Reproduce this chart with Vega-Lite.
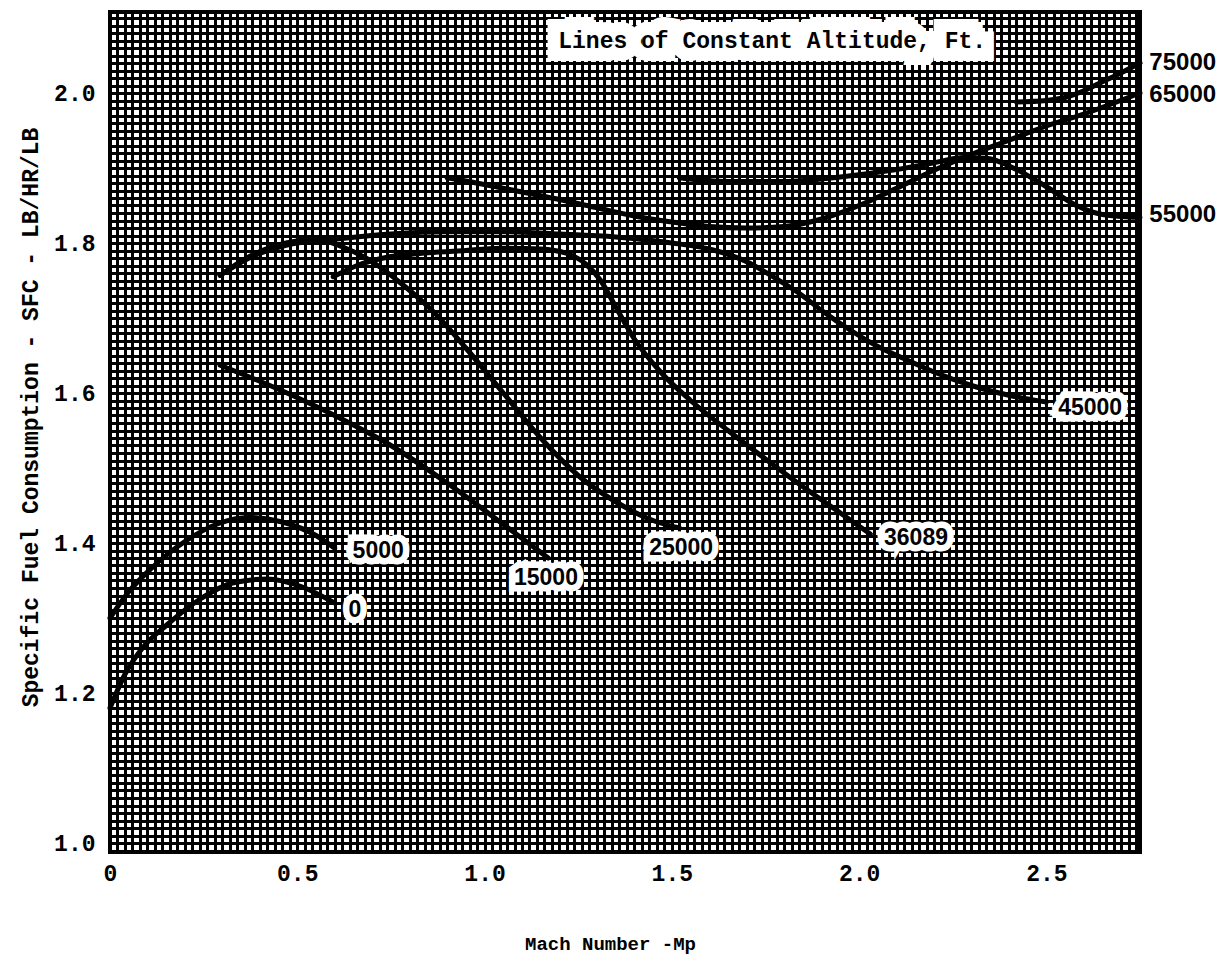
{
  "$schema": "https://vega.github.io/schema/vega-lite/v6.json",
  "width": 1030,
  "height": 840,
  "autosize": {"type": "none"},
  "padding": {"left": 110, "top": 12, "right": 79, "bottom": 104},
  "background": "white",
  "config": {
    "view": {"stroke": "black", "strokeWidth": 4, "fill": "white"},
    "axis": {
      "labelFont": "Liberation Mono",
      "labelFontWeight": "bold",
      "labelColor": "black",
      "labelFontSize": 23,
      "titleFont": "Liberation Mono",
      "titleFontWeight": "bold",
      "titleColor": "black",
      "ticks": false,
      "domain": false,
      "grid": true,
      "gridColor": "black",
      "gridWidth": 3,
      "gridOpacity": 1,
      "labelOverlap": false,
      "labelFlush": false,
      "labelBound": false
    }
  },
  "datasets": {
    "curves": [
      {"altitude": "0", "mach": 0.0, "sfc": 1.18},
      {"altitude": "0", "mach": 0.04, "sfc": 1.225},
      {"altitude": "0", "mach": 0.09, "sfc": 1.262},
      {"altitude": "0", "mach": 0.15, "sfc": 1.29},
      {"altitude": "0", "mach": 0.24, "sfc": 1.325},
      {"altitude": "0", "mach": 0.33, "sfc": 1.347},
      {"altitude": "0", "mach": 0.42, "sfc": 1.352},
      {"altitude": "0", "mach": 0.51, "sfc": 1.342},
      {"altitude": "0", "mach": 0.6, "sfc": 1.32},

      {"altitude": "5000", "mach": 0.0, "sfc": 1.3},
      {"altitude": "5000", "mach": 0.05, "sfc": 1.335},
      {"altitude": "5000", "mach": 0.11, "sfc": 1.366},
      {"altitude": "5000", "mach": 0.2, "sfc": 1.402},
      {"altitude": "5000", "mach": 0.29, "sfc": 1.426},
      {"altitude": "5000", "mach": 0.37, "sfc": 1.434},
      {"altitude": "5000", "mach": 0.46, "sfc": 1.428},
      {"altitude": "5000", "mach": 0.55, "sfc": 1.41},
      {"altitude": "5000", "mach": 0.6, "sfc": 1.393},

      {"altitude": "15000", "mach": 0.294, "sfc": 1.637},
      {"altitude": "15000", "mach": 0.45, "sfc": 1.605},
      {"altitude": "15000", "mach": 0.6, "sfc": 1.57},
      {"altitude": "15000", "mach": 0.75, "sfc": 1.53},
      {"altitude": "15000", "mach": 0.9, "sfc": 1.48},
      {"altitude": "15000", "mach": 1.05, "sfc": 1.425},
      {"altitude": "15000", "mach": 1.17, "sfc": 1.38},

      {"altitude": "25000", "mach": 0.294, "sfc": 1.757},
      {"altitude": "25000", "mach": 0.38, "sfc": 1.784},
      {"altitude": "25000", "mach": 0.47, "sfc": 1.8},
      {"altitude": "25000", "mach": 0.55, "sfc": 1.805},
      {"altitude": "25000", "mach": 0.62, "sfc": 1.795},
      {"altitude": "25000", "mach": 0.7, "sfc": 1.775},
      {"altitude": "25000", "mach": 0.78, "sfc": 1.745},
      {"altitude": "25000", "mach": 0.86, "sfc": 1.71},
      {"altitude": "25000", "mach": 0.95, "sfc": 1.66},
      {"altitude": "25000", "mach": 1.05, "sfc": 1.6},
      {"altitude": "25000", "mach": 1.15, "sfc": 1.54},
      {"altitude": "25000", "mach": 1.25, "sfc": 1.49},
      {"altitude": "25000", "mach": 1.35, "sfc": 1.455},
      {"altitude": "25000", "mach": 1.45, "sfc": 1.43},
      {"altitude": "25000", "mach": 1.52, "sfc": 1.42},

      {"altitude": "36089", "mach": 0.596, "sfc": 1.755},
      {"altitude": "36089", "mach": 0.66, "sfc": 1.77},
      {"altitude": "36089", "mach": 0.75, "sfc": 1.782},
      {"altitude": "36089", "mach": 0.85, "sfc": 1.787},
      {"altitude": "36089", "mach": 0.95, "sfc": 1.79},
      {"altitude": "36089", "mach": 1.05, "sfc": 1.793},
      {"altitude": "36089", "mach": 1.15, "sfc": 1.792},
      {"altitude": "36089", "mach": 1.22, "sfc": 1.786},
      {"altitude": "36089", "mach": 1.27, "sfc": 1.772},
      {"altitude": "36089", "mach": 1.31, "sfc": 1.75},
      {"altitude": "36089", "mach": 1.35, "sfc": 1.715},
      {"altitude": "36089", "mach": 1.4, "sfc": 1.672},
      {"altitude": "36089", "mach": 1.47, "sfc": 1.628},
      {"altitude": "36089", "mach": 1.55, "sfc": 1.59},
      {"altitude": "36089", "mach": 1.65, "sfc": 1.55},
      {"altitude": "36089", "mach": 1.75, "sfc": 1.512},
      {"altitude": "36089", "mach": 1.85, "sfc": 1.475},
      {"altitude": "36089", "mach": 1.95, "sfc": 1.44},
      {"altitude": "36089", "mach": 2.03, "sfc": 1.412},

      {"altitude": "45000", "mach": 0.294, "sfc": 1.757},
      {"altitude": "45000", "mach": 0.38, "sfc": 1.782},
      {"altitude": "45000", "mach": 0.47, "sfc": 1.797},
      {"altitude": "45000", "mach": 0.6, "sfc": 1.805},
      {"altitude": "45000", "mach": 0.75, "sfc": 1.812},
      {"altitude": "45000", "mach": 0.9, "sfc": 1.815},
      {"altitude": "45000", "mach": 1.05, "sfc": 1.815},
      {"altitude": "45000", "mach": 1.2, "sfc": 1.812},
      {"altitude": "45000", "mach": 1.35, "sfc": 1.808},
      {"altitude": "45000", "mach": 1.5, "sfc": 1.8},
      {"altitude": "45000", "mach": 1.6, "sfc": 1.792},
      {"altitude": "45000", "mach": 1.7, "sfc": 1.775},
      {"altitude": "45000", "mach": 1.78, "sfc": 1.752},
      {"altitude": "45000", "mach": 1.84, "sfc": 1.733},
      {"altitude": "45000", "mach": 1.9, "sfc": 1.71},
      {"altitude": "45000", "mach": 1.976, "sfc": 1.684},
      {"altitude": "45000", "mach": 2.05, "sfc": 1.662},
      {"altitude": "45000", "mach": 2.11, "sfc": 1.648},
      {"altitude": "45000", "mach": 2.2, "sfc": 1.628},
      {"altitude": "45000", "mach": 2.3, "sfc": 1.61},
      {"altitude": "45000", "mach": 2.4, "sfc": 1.597},
      {"altitude": "45000", "mach": 2.5, "sfc": 1.588},

      {"altitude": "55000", "mach": 1.52, "sfc": 1.887},
      {"altitude": "55000", "mach": 1.65, "sfc": 1.882},
      {"altitude": "55000", "mach": 1.8, "sfc": 1.882},
      {"altitude": "55000", "mach": 1.95, "sfc": 1.888},
      {"altitude": "55000", "mach": 2.1, "sfc": 1.898},
      {"altitude": "55000", "mach": 2.2, "sfc": 1.907},
      {"altitude": "55000", "mach": 2.28, "sfc": 1.914},
      {"altitude": "55000", "mach": 2.34, "sfc": 1.913},
      {"altitude": "55000", "mach": 2.42, "sfc": 1.898},
      {"altitude": "55000", "mach": 2.5, "sfc": 1.875},
      {"altitude": "55000", "mach": 2.58, "sfc": 1.85},
      {"altitude": "55000", "mach": 2.65, "sfc": 1.838},
      {"altitude": "55000", "mach": 2.75, "sfc": 1.834},

      {"altitude": "65000", "mach": 0.9, "sfc": 1.887},
      {"altitude": "65000", "mach": 1.0, "sfc": 1.878},
      {"altitude": "65000", "mach": 1.1, "sfc": 1.868},
      {"altitude": "65000", "mach": 1.2, "sfc": 1.858},
      {"altitude": "65000", "mach": 1.3, "sfc": 1.847},
      {"altitude": "65000", "mach": 1.4, "sfc": 1.836},
      {"altitude": "65000", "mach": 1.5, "sfc": 1.828},
      {"altitude": "65000", "mach": 1.6, "sfc": 1.822},
      {"altitude": "65000", "mach": 1.7, "sfc": 1.82},
      {"altitude": "65000", "mach": 1.8, "sfc": 1.822},
      {"altitude": "65000", "mach": 1.9, "sfc": 1.832},
      {"altitude": "65000", "mach": 2.0, "sfc": 1.85},
      {"altitude": "65000", "mach": 2.1, "sfc": 1.873},
      {"altitude": "65000", "mach": 2.2, "sfc": 1.897},
      {"altitude": "65000", "mach": 2.3, "sfc": 1.918},
      {"altitude": "65000", "mach": 2.4, "sfc": 1.937},
      {"altitude": "65000", "mach": 2.5, "sfc": 1.956},
      {"altitude": "65000", "mach": 2.6, "sfc": 1.972},
      {"altitude": "65000", "mach": 2.75, "sfc": 2.0},

      {"altitude": "75000", "mach": 2.42, "sfc": 1.988},
      {"altitude": "75000", "mach": 2.5, "sfc": 1.99},
      {"altitude": "75000", "mach": 2.55, "sfc": 1.994},
      {"altitude": "75000", "mach": 2.6, "sfc": 2.003},
      {"altitude": "75000", "mach": 2.65, "sfc": 2.015},
      {"altitude": "75000", "mach": 2.7, "sfc": 2.027},
      {"altitude": "75000", "mach": 2.75, "sfc": 2.04}
    ],
    "plotTags": [
      {"label": "0", "mach": 0.654, "sfc": 1.311},
      {"label": "5000", "mach": 0.716, "sfc": 1.389},
      {"label": "15000", "mach": 1.164, "sfc": 1.353},
      {"label": "25000", "mach": 1.525, "sfc": 1.393},
      {"label": "36089", "mach": 2.152, "sfc": 1.407},
      {"label": "45000", "mach": 2.617, "sfc": 1.58}
    ],
    "edgeTags": [
      {"label": "75000", "mach": 2.775, "sfc": 2.04},
      {"label": "65000", "mach": 2.775, "sfc": 1.997},
      {"label": "55000", "mach": 2.775, "sfc": 1.837}
    ],
    "heading": [
      {"label": "Lines of Constant Altitude, Ft.", "mach": 1.768, "sfc": 2.069}
    ]
  },
  "layer": [
    {
      "data": {"name": "curves"},
      "mark": {"type": "line", "interpolate": "monotone", "strokeWidth": 5, "color": "black", "strokeCap": "round"},
      "encoding": {
        "x": {
          "field": "mach",
          "type": "quantitative",
          "scale": {"domain": [0, 2.75], "nice": false, "zero": false},
          "axis": {
            "tickCount": 138,
            "labelPadding": 10,
            "labelExpr": "abs(datum.value * 2 - round(datum.value * 2)) < 0.0001 ? (abs(datum.value) < 0.0001 ? '0' : format(datum.value, '.1f')) : ''",
            "title": "Mach Number -Mp",
            "titleFontSize": 19,
            "titleX": 500,
            "titleY": 91,
            "titleBaseline": "middle",
            "titleAlign": "center"
          }
        },
        "y": {
          "field": "sfc",
          "type": "quantitative",
          "scale": {"domain": [0.988, 2.108], "nice": false, "zero": false},
          "axis": {
            "tickCount": 112,
            "labelPadding": 15,
            "labelExpr": "abs(datum.value * 5 - round(datum.value * 5)) < 0.0001 ? format(datum.value, '.1f') : ''",
            "title": "Specific Fuel Consumption  -  SFC  -  LB/HR/LB",
            "titleFontSize": 23,
            "titleX": -80,
            "titleY": 405,
            "titleAngle": -90,
            "titleBaseline": "middle",
            "titleAlign": "center"
          }
        },
        "detail": {"field": "altitude", "type": "nominal"}
      }
    },
    {
      "data": {"name": "plotTags"},
      "mark": {"type": "text", "font": "Liberation Sans", "fontWeight": "bold", "fontSize": 23, "fill": "white", "stroke": "white", "strokeWidth": 13, "strokeJoin": "miter", "baseline": "middle", "align": "center"},
      "encoding": {
        "x": {"field": "mach", "type": "quantitative"},
        "y": {"field": "sfc", "type": "quantitative"},
        "text": {"field": "label"}
      }
    },
    {
      "data": {"name": "plotTags"},
      "mark": {"type": "text", "font": "Liberation Sans", "fontWeight": "bold", "fontSize": 23, "fill": "black", "baseline": "middle", "align": "center"},
      "encoding": {
        "x": {"field": "mach", "type": "quantitative"},
        "y": {"field": "sfc", "type": "quantitative"},
        "text": {"field": "label"}
      }
    },
    {
      "data": {"name": "edgeTags"},
      "mark": {"type": "text", "font": "Liberation Sans", "fontWeight": "bold", "fontSize": 24, "fill": "black", "baseline": "middle", "align": "left"},
      "encoding": {
        "x": {"field": "mach", "type": "quantitative"},
        "y": {"field": "sfc", "type": "quantitative"},
        "text": {"field": "label"}
      }
    },
    {
      "data": {"name": "heading"},
      "mark": {"type": "text", "font": "Liberation Mono", "fontWeight": "bold", "fontSize": 23, "fill": "white", "stroke": "white", "strokeWidth": 26, "strokeJoin": "miter", "baseline": "middle", "align": "center"},
      "encoding": {
        "x": {"field": "mach", "type": "quantitative"},
        "y": {"field": "sfc", "type": "quantitative"},
        "text": {"field": "label"}
      }
    },
    {
      "data": {"name": "heading"},
      "mark": {"type": "text", "font": "Liberation Mono", "fontWeight": "bold", "fontSize": 23, "fill": "black", "baseline": "middle", "align": "center"},
      "encoding": {
        "x": {"field": "mach", "type": "quantitative"},
        "y": {"field": "sfc", "type": "quantitative"},
        "text": {"field": "label"}
      }
    }
  ]
}
